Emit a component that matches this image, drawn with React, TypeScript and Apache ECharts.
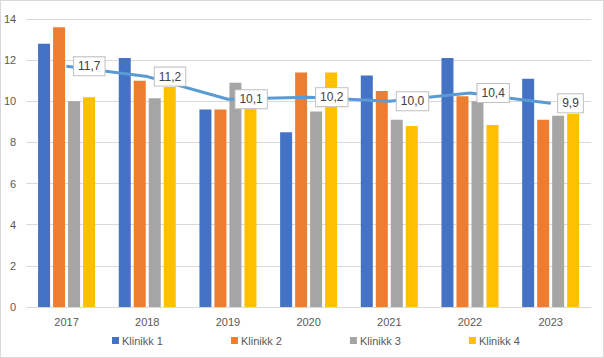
import React, { useEffect, useRef } from "react";
import * as echarts from "echarts";

const years = ["2017", "2018", "2019", "2020", "2021", "2022", "2023"];
const klinikk1 = [12.8, 12.1, 9.6, 8.5, 11.25, 12.1, 11.1];
const klinikk2 = [13.6, 11.0, 9.6, 11.4, 10.5, 10.25, 9.1];
const klinikk3 = [10.0, 10.15, 10.9, 9.5, 9.1, 10.0, 9.3];
const klinikk4 = [10.2, 10.7, 9.9, 11.4, 8.8, 8.85, 9.4];
const average = [11.7, 11.2, 10.1, 10.2, 10.0, 10.4, 9.9];
const seriesNames = ["Klinikk 1", "Klinikk 2", "Klinikk 3", "Klinikk 4"];
const colors = ["#4472C4", "#ED7D31", "#A5A5A5", "#FFC000"];

export default function App() {
  const ref = useRef<HTMLDivElement>(null);
  useEffect(() => {
    if (!ref.current) return;
    const chart = echarts.init(ref.current, null, { renderer: "svg" });
    const font = "'Liberation Sans', 'DejaVu Sans', sans-serif";
    const barData = [klinikk1, klinikk2, klinikk3, klinikk4];
    chart.setOption({
      animation: false,
      backgroundColor: "#ffffff",
      textStyle: { fontFamily: font },
      grid: { left: 25, right: 12, top: 18, bottom: 50 },
      legend: {
        data: seriesNames,
        left: 106,
        bottom: 6,
        itemWidth: 7,
        itemHeight: 7,
        itemGap: 68,
        icon: "rect",
        textStyle: { fontSize: 11, color: "#595959", fontFamily: font, padding: [0, 0, 0, -2] },
      },
      xAxis: {
        type: "category",
        data: years,
        axisLine: { lineStyle: { color: "#d9d9d9" } },
        axisTick: { show: false },
        axisLabel: { color: "#595959", fontSize: 11, margin: 9 },
      },
      yAxis: {
        type: "value",
        min: 0,
        max: 14,
        interval: 2,
        axisLine: { show: false },
        axisTick: { show: false },
        axisLabel: { color: "#595959", fontSize: 11, margin: 10 },
        splitLine: { lineStyle: { color: "#d9d9d9" } },
      },
      series: [
        ...barData.map((d, i) => ({
          name: seriesNames[i],
          type: "bar",
          data: d,
          barWidth: 12,
          barGap: "25%",
          itemStyle: { color: colors[i] },
          z: 2,
        })),
        {
          name: "Snitt",
          type: "line",
          data: average,
          showSymbol: true,
          symbol: "circle",
          symbolSize: 1,
          itemStyle: { color: "#5B9BD5" },
          lineStyle: { color: "#5B9BD5", width: 3 },
          z: 5,
          label: {
            show: true,
            position: "right",
            distance: 7,
            formatter: (p: any) => p.value.toFixed(1).replace(".", ","),
            backgroundColor: "#ffffff",
            borderColor: "#bfbfbf",
            borderWidth: 1,
            padding: [3, 4, 3, 4],
            color: "#404040",
            fontSize: 12,
            fontFamily: font,
          },
        },
      ],
    });
    return () => chart.dispose();
  }, []);
  return (
    <div
      ref={ref}
      style={{
        position: "fixed",
        left: 0,
        top: 0,
        width: 604,
        height: 358,
        boxSizing: "border-box",
        border: "1px solid #d9d9d9",
      }}
    />
  );
}
